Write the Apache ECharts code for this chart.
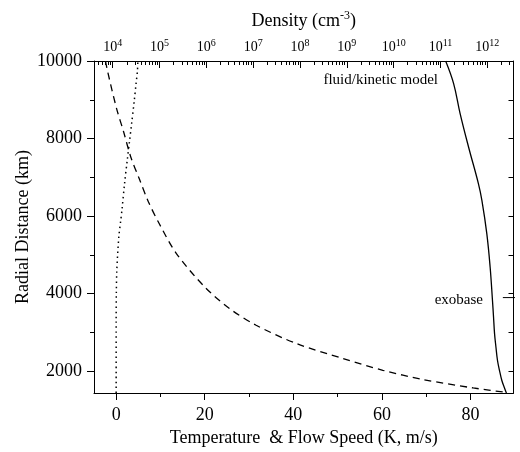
<!DOCTYPE html>
<html>
<head>
<meta charset="utf-8">
<script src="https://cdn.jsdelivr.net/npm/echarts@6/dist/echarts.min.js"></script>
<style>
html,body{margin:0;padding:0;background:#fff;}
#chart{width:520px;height:452px;}
</style>
</head>
<body>
<div id="chart"></div>
<script>
// temperature profile (dashed), bottom axis
var tempRadius = [10000, 9717, 8773, 8170, 7525, 6968, 6365, 5790, 5035, 4174, 3617, 3186, 2715, 2328, 2026, 1787, 1570, 1460];
var temperature = [-2.4, -1.9, 0.1, 1.7, 3.3, 5.2, 7.3, 9.8, 13.6, 20.0, 25.6, 31.6, 40.7, 51.2, 60.2, 69.3, 80.6, 87.8];

// flow speed profile (dotted), bottom axis
var flowRadius = [1440, 3300, 4000, 4600, 5460, 5900, 6150, 6840, 7440, 7910, 8390, 8990, 9420, 9740, 10000];
var flowSpeed = [0, 0, 0.04, 0.15, 0.6, 1.05, 1.3, 1.9, 2.5, 3.0, 3.5, 4.1, 4.5, 4.8, 4.9];

// density profile (solid), top log axis
var densRadius = [10000, 9417, 8644, 7783, 6840, 6409, 5550, 4689, 3831, 3401, 2972, 2627, 2284, 2026, 1768, 1596, 1467, 1440];
var density = [1.29e11, 1.91e11, 2.63e11, 3.98e11, 6.46e11, 7.67e11, 9.77e11, 1.15e12, 1.29e12, 1.36e12, 1.43e12, 1.53e12, 1.65e12, 1.82e12, 2.04e12, 2.29e12, 2.51e12, 2.57e12];

// exobase marker
var exobaseRadius = 3900;
var exobaseSpeed = [87.3, 91.3];

var xMajor = [0, 20, 40, 60, 80];
var xMinor = [10, 30, 50, 70];
var yMajor = [2000, 4000, 6000, 8000, 10000];
var yMinor = [3000, 5000, 7000, 9000];
var yRight = [2000, 3000, 4000, 5000, 6000, 7000, 8000, 9000, 10000];
var densMajor = [1e4, 1e5, 1e6, 1e7, 1e8, 1e9, 1e10, 1e11, 1e12];

var densMin = Math.pow(10, 3.6), densMax = Math.pow(10, 12.56);
var densMinor = [];
for (var d = 3; d <= 12; d++) {
    for (var k = 2; k <= 9; k++) {
        var v = k * Math.pow(10, d);
        if (v > densMin && v < densMax) densMinor.push(v);
    }
}

function pairs(xs, ys) {
    var out = [];
    for (var i = 0; i < xs.length; i++) out.push([xs[i], ys[i]]);
    return out;
}

var FONT = 'Liberation Serif';
var chart = echarts.init(document.getElementById('chart'), null, {renderer: 'canvas'});
var lineBlack = {onZero: false, lineStyle: {color: '#000', width: 1}};
var noLine = {show: false, onZero: false};

var option = {
    animation: false,
    backgroundColor: '#fff',
    textStyle: {fontFamily: FONT, color: '#000'},
    grid: {left: 94, right: 6.5, top: 61, bottom: 59, containLabel: false},
    xAxis: [
        {
            type: 'value', position: 'bottom', min: -5, max: 89.7,
            axisLine: lineBlack,
            axisTick: {customValues: xMajor, length: 7, lineStyle: {color: '#000'}},
            axisLabel: {customValues: xMajor, fontFamily: FONT, fontSize: 18, color: '#000', margin: 13},
            splitLine: {show: false},
            name: 'Temperature  & Flow Speed (K, m/s)', nameLocation: 'middle', nameGap: 36,
            nameMoveOverlap: false,
            nameTextStyle: {fontFamily: FONT, fontSize: 18, color: '#000'}
        },
        {
            type: 'value', position: 'bottom', min: -5, max: 89.7,
            axisLine: noLine,
            axisTick: {customValues: xMinor, length: 4, lineStyle: {color: '#000'}},
            axisLabel: {show: false},
            splitLine: {show: false}
        },
        {
            type: 'log', logBase: 10, position: 'top', min: densMin, max: densMax,
            axisLine: lineBlack,
            axisTick: {customValues: densMajor, inside: true, length: 7, lineStyle: {color: '#000'}},
            axisLabel: {
                customValues: densMajor, margin: 4, fontFamily: FONT, fontSize: 14, color: '#000',
                formatter: function (v) { return '10{sup|' + Math.round(Math.log10(v)) + '}'; },
                rich: {sup: {fontFamily: FONT, fontSize: 10, color: '#000', verticalAlign: 'top', lineHeight: 19}}
            },
            splitLine: {show: false},
            name: 'Density (cm{sup|-3})', nameLocation: 'middle', nameGap: 29,
            nameMoveOverlap: false,
            nameTextStyle: {
                fontFamily: FONT, fontSize: 18, color: '#000',
                rich: {sup: {fontFamily: FONT, fontSize: 12, color: '#000', verticalAlign: 'top', lineHeight: 22}}
            }
        },
        {
            type: 'log', logBase: 10, position: 'top', min: densMin, max: densMax,
            axisLine: noLine,
            axisTick: {customValues: densMinor, inside: true, length: 4, lineStyle: {color: '#000'}},
            axisLabel: {show: false},
            splitLine: {show: false}
        }
    ],
    yAxis: [
        {
            type: 'value', position: 'left', min: 1440, max: 10000,
            axisLine: lineBlack,
            axisTick: {customValues: yMajor, length: 7, lineStyle: {color: '#000'}},
            axisLabel: {
                customValues: yMajor, fontFamily: FONT, fontSize: 18, color: '#000', margin: 12,
                formatter: function (v) { return String(v); }
            },
            splitLine: {show: false},
            name: 'Radial Distance (km)', nameLocation: 'middle', nameGap: 62,
            nameMoveOverlap: false,
            nameTextStyle: {fontFamily: FONT, fontSize: 18, color: '#000'}
        },
        {
            type: 'value', position: 'left', min: 1440, max: 10000,
            axisLine: noLine,
            axisTick: {customValues: yMinor, length: 4, lineStyle: {color: '#000'}},
            axisLabel: {show: false},
            splitLine: {show: false}
        },
        {
            type: 'value', position: 'right', min: 1440, max: 10000,
            axisLine: lineBlack,
            axisTick: {customValues: yRight, inside: true, length: 5, lineStyle: {color: '#000'}},
            axisLabel: {show: false},
            splitLine: {show: false}
        }
    ],
    series: [
        {
            name: 'temperature', type: 'line', xAxisIndex: 0, yAxisIndex: 0,
            data: pairs(temperature, tempRadius), smooth: 0.3, symbol: 'none',
            lineStyle: {color: '#000', width: 1.3, type: [7, 5]}
        },
        {
            name: 'flow speed', type: 'line', xAxisIndex: 0, yAxisIndex: 0,
            data: pairs(flowSpeed, flowRadius), smooth: 0.3, symbol: 'none',
            lineStyle: {color: '#000', width: 1.5, type: [1.5, 3.5]}
        },
        {
            name: 'density', type: 'line', xAxisIndex: 2, yAxisIndex: 0,
            data: pairs(density, densRadius), smooth: 0.4, symbol: 'none',
            lineStyle: {color: '#000', width: 1.3}
        },
        {
            name: 'exobase', type: 'line', xAxisIndex: 0, yAxisIndex: 0, clip: false,
            data: [[exobaseSpeed[0], exobaseRadius], [exobaseSpeed[1], exobaseRadius]],
            symbol: 'none', lineStyle: {color: '#000', width: 1}
        }
    ],
    graphic: [
        {type: 'text', right: 82, top: 73, style: {text: 'fluid/kinetic model', font: '15px "Liberation Serif"', fill: '#000'}},
        {type: 'text', right: 37, top: 293, style: {text: 'exobase', font: '15px "Liberation Serif"', fill: '#000'}}
    ]
};

chart.setOption(option);
</script>
</body>
</html>
